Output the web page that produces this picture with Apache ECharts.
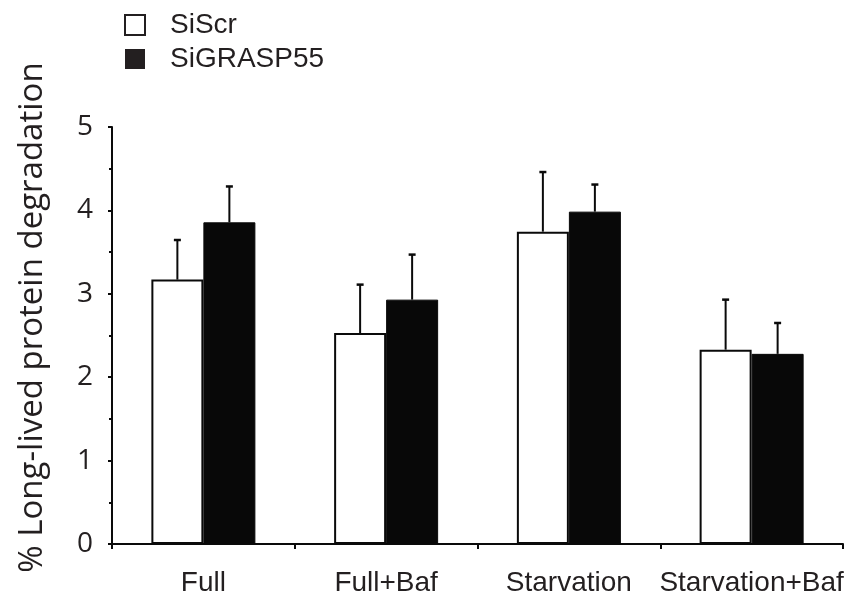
<!DOCTYPE html>
<html>
<head>
<meta charset="utf-8">
<script src="https://cdn.jsdelivr.net/npm/echarts@6/dist/echarts.min.js"></script>
<style>html,body{margin:0;padding:0;background:#fff}#c{width:863px;height:601px}</style>
</head>
<body>
<div id="c"></div>
<script>
var categories = ['Full', 'Full+Baf', 'Starvation', 'Starvation+Baf'];
var seriesNames = ['SiScr', 'SiGRASP55'];
var siScr = [3.17, 2.53, 3.745, 2.33];
var siScrErr = [0.475, 0.58, 0.715, 0.60];
var siGrasp = [3.857, 2.93, 3.985, 2.28];
var siGraspErr = [0.43, 0.54, 0.325, 0.37];
var yTicks = [0, 1, 2, 3, 4, 5];

var BAR_W = 52;
var chart = echarts.init(document.getElementById('c'));

function errData(vals, errs) {
  return vals.map(function (v, i) { return [i, v, errs[i]]; });
}
function errRender(offset) {
  return function (params, api) {
    var i = api.value(0), v = api.value(1), e = api.value(2);
    var p0 = api.coord([i, v]);
    var p1 = api.coord([i, v + e]);
    var x = p0[0] + offset;
    var st = { stroke: '#0a0a0a', lineWidth: 2 };
    return {
      type: 'group',
      children: [
        { type: 'line', shape: { x1: x, y1: p0[1], x2: x, y2: p1[1] }, style: st },
        { type: 'line', shape: { x1: x - 3.5, y1: p1[1], x2: x + 3.5, y2: p1[1] }, style: { stroke: '#0a0a0a', lineWidth: 2.5 } }
      ]
    };
  };
}

chart.setOption({
  animation: false,
  backgroundColor: '#fff',
  legend: {
    left: 119,
    top: 6,
    orient: 'vertical',
    itemWidth: 20,
    itemHeight: 20,
    itemGap: 6,
    icon: 'rect',
    textStyle: { fontFamily: 'Liberation Sans', fontSize: 28, color: '#231f20', padding: [0, 0, 0, 20] },
    data: [
      { name: seriesNames[0], itemStyle: { color: '#fff', borderColor: '#231f20', borderWidth: 2 } },
      { name: seriesNames[1], itemStyle: { color: '#231f20', borderWidth: 0 } }
    ]
  },
  grid: { left: 112, right: 20, top: 127, bottom: 57, containLabel: false },
  xAxis: {
    type: 'category',
    data: categories,
    boundaryGap: true,
    axisLine: { lineStyle: { color: '#0a0a0a', width: 2 } },
    axisTick: { show: true, inside: false, length: 5, alignWithLabel: false, lineStyle: { color: '#0a0a0a', width: 2 } },
    axisLabel: { fontFamily: 'Liberation Sans', fontSize: 28, color: '#231f20', margin: 25, interval: 0 }
  },
  yAxis: {
    type: 'value',
    min: 0, max: 5, interval: 1,
    name: '% Long-lived protein degradation',
    nameLocation: 'middle',
    nameGap: 63,
    nameTextStyle: { fontFamily: 'Open Sans', fontSize: 33, color: '#231f20', padding: [0, 0, 0, 36] },
    axisLine: { show: true, lineStyle: { color: '#0a0a0a', width: 2 } },
    axisTick: { show: true, length: 4, lineStyle: { color: '#0a0a0a', width: 2 } },
    minorTick: { show: true, splitNumber: 2, length: 3, lineStyle: { color: '#0a0a0a', width: 2 } },
    splitLine: { show: false },
    axisLabel: {
      fontFamily: 'Open Sans', fontSize: 28, color: '#231f20', margin: 19,
      formatter: function (v) { return yTicks.indexOf(v) >= 0 ? String(v) : ''; }
    }
  },
  series: [
    {
      name: seriesNames[0], type: 'bar', data: siScr, barWidth: BAR_W, barGap: '0%',
      itemStyle: { color: '#fff', borderColor: '#0a0a0a', borderWidth: 2 }, z: 2
    },
    {
      name: seriesNames[1], type: 'bar', data: siGrasp, barWidth: BAR_W, barGap: '0%',
      itemStyle: { color: '#080808', borderColor: '#080808', borderWidth: 1 }, z: 2
    },
    {
      type: 'custom', name: 'errScr', data: errData(siScr, siScrErr),
      encode: { x: 0, y: 1 }, renderItem: errRender(-BAR_W / 2), z: 3, silent: true
    },
    {
      type: 'custom', name: 'errGrasp', data: errData(siGrasp, siGraspErr),
      encode: { x: 0, y: 1 }, renderItem: errRender(BAR_W / 2), z: 3, silent: true
    }
  ]
});
</script>
</body>
</html>
